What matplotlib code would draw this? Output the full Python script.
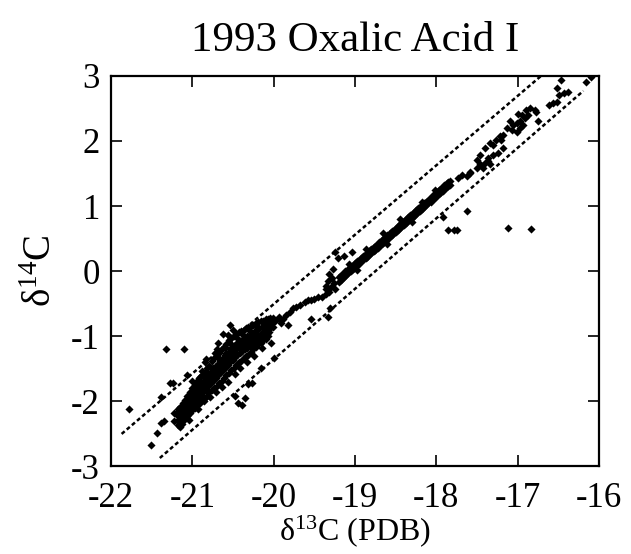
import matplotlib
matplotlib.use("Agg")
import matplotlib.pyplot as plt

plt.rcParams['font.family'] = ['Liberation Serif', 'DejaVu Serif']
plt.rcParams['mathtext.fontset'] = 'custom'
plt.rcParams['mathtext.rm'] = 'Liberation Serif'
plt.rcParams['mathtext.it'] = 'Liberation Serif:italic'

# ---------------- data ----------------
title = "1993 Oxalic Acid I"
xticks = [-22, -21, -20, -19, -18, -17, -16]
yticks = [-3, -2, -1, 0, 1, 2, 3]

# dotted envelope lines (end points)
upper_line_x = [-21.87, -16.71]
upper_line_y = [-2.50, 3.00]
lower_line_x = [-21.40, -16.19]
lower_line_y = [-2.87, 2.77]

left_outliers_x = [-21.78, -21.32, -21.10, -21.51, -21.43, -21.39, -21.35, -21.28, -21.24, -21.38]
left_outliers_y = [-2.12, -1.20, -1.20, -2.67, -2.49, -2.33, -2.30, -1.72, -1.72, -1.93]

dense_x = [-21.22, -21.22,
           -21.18, -21.18, -21.18, -21.15, -21.15, -21.15, -21.12, -21.12, -21.12,
           -21.09, -21.09, -21.09, -21.06, -21.06, -21.06, -21.03, -21.03, -21.03,
           -21.00, -21.00, -21.00, -20.97, -20.97, -20.97, -20.94, -20.94, -20.94,
           -20.91, -20.91, -20.91, -20.88, -20.88, -20.88, -20.85, -20.85, -20.85,
           -20.82, -20.82, -20.82, -20.79, -20.79, -20.79, -20.76, -20.76, -20.76,
           -20.73, -20.73, -20.73, -20.70, -20.70, -20.70, -20.67, -20.67, -20.67,
           -20.64, -20.64, -20.64, -20.61, -20.61, -20.61, -20.58, -20.58, -20.58,
           -20.55, -20.55, -20.55, -20.52, -20.52, -20.52, -20.49, -20.49, -20.49,
           -20.46, -20.46, -20.46, -20.43, -20.43, -20.43, -20.40, -20.40, -20.40,
           -20.37, -20.37, -20.37, -20.34, -20.34, -20.34, -20.31, -20.31, -20.31,
           -20.28, -20.28, -20.28, -20.25, -20.25, -20.25, -20.22, -20.22, -20.22,
           -20.19, -20.19, -20.19, -20.16, -20.16, -20.16, -20.13, -20.13, -20.13,
           -20.10, -20.10, -20.10, -20.07, -20.07, -20.07, -20.04, -20.04,
           -20.01, -20.01, -19.98]
dense_y = [-2.18, -2.30,
           -2.12, -2.28, -2.36, -2.08, -2.24, -2.40, -2.02, -2.18, -2.30,
           -1.98, -2.14, -2.26, -1.92, -2.10, -2.22, -1.85, -2.04, -2.18,
           -1.80, -1.98, -2.14, -1.75, -1.92, -2.10, -1.68, -1.90, -2.05,
           -1.62, -1.85, -2.02, -1.60, -1.78, -1.98, -1.55, -1.74, -1.95,
           -1.48, -1.70, -1.92, -1.45, -1.66, -1.86, -1.38, -1.60, -1.82,
           -1.34, -1.58, -1.80, -1.30, -1.52, -1.76, -1.25, -1.50, -1.72,
           -1.20, -1.44, -1.68, -1.16, -1.40, -1.64, -1.12, -1.36, -1.60,
           -1.06, -1.30, -1.56, -1.02, -1.28, -1.52, -1.00, -1.24, -1.48,
           -0.96, -1.20, -1.44, -0.94, -1.18, -1.40, -0.92, -1.15, -1.38,
           -0.90, -1.12, -1.34, -0.88, -1.10, -1.30, -0.86, -1.08, -1.28,
           -0.84, -1.04, -1.24, -0.82, -1.02, -1.20, -0.80, -1.00, -1.16,
           -0.78, -0.98, -1.12, -0.76, -0.96, -1.10, -0.76, -0.94, -1.06,
           -0.74, -0.92, -1.04, -0.74, -0.90, -1.00, -0.72, -0.88,
           -0.72, -0.86, -0.76]

dense_fill_x = [-21.20, -21.165, -21.165, -21.135, -21.135, -21.105, -21.105,
                -21.075, -21.075, -21.045, -21.045, -21.015, -21.015, -20.985, -20.985,
                -20.955, -20.955, -20.925, -20.925, -20.895, -20.895, -20.865, -20.865,
                -20.835, -20.835, -20.805, -20.805, -20.775, -20.775, -20.745, -20.745,
                -20.715, -20.715, -20.685, -20.685, -20.655, -20.655, -20.625, -20.625,
                -20.595, -20.595, -20.565, -20.565, -20.535, -20.535, -20.505, -20.505,
                -20.475, -20.475, -20.445, -20.445, -20.415, -20.415, -20.385, -20.385,
                -20.355, -20.355, -20.325, -20.325, -20.295, -20.295, -20.265, -20.265,
                -20.235, -20.235, -20.205, -20.205, -20.175, -20.175, -20.145, -20.145,
                -20.115, -20.115, -20.085, -20.085, -20.055, -20.055, -20.025]
dense_fill_y = [-2.20, -2.17, -2.31, -2.12, -2.27, -2.08, -2.22,
                -2.03, -2.17, -1.99, -2.12, -1.94, -2.08, -1.88, -2.04,
                -1.84, -2.00, -1.79, -1.95, -1.74, -1.90, -1.70, -1.86,
                -1.64, -1.82, -1.60, -1.76, -1.55, -1.72, -1.50, -1.68,
                -1.46, -1.64, -1.42, -1.60, -1.38, -1.56, -1.33, -1.52,
                -1.29, -1.48, -1.25, -1.44, -1.20, -1.40, -1.17, -1.36,
                -1.14, -1.32, -1.10, -1.28, -1.08, -1.26, -1.05, -1.22,
                -1.02, -1.20, -1.00, -1.18, -0.98, -1.14, -0.95, -1.12,
                -0.92, -1.10, -0.90, -1.06, -0.88, -1.04, -0.86, -1.02,
                -0.84, -0.98, -0.82, -0.96, -0.80, -0.94, -0.80]

dense_extra_x = [-21.13, -21.08, -21.04, -20.99, -20.96, -20.93, -20.89, -20.86, -20.81,
                 -20.78, -20.74, -20.71, -20.66, -20.63, -20.59, -20.56, -20.53, -20.48,
                 -20.45, -20.41, -20.38, -20.33, -20.29, -20.24, -20.20, -20.14, -20.09,
                 -20.03, -20.56, -20.70, -20.83, -21.00]
dense_extra_y = [-2.35, -2.02, -2.28, -2.05, -1.82, -2.12, -1.70, -2.00, -1.58,
                 -1.93, -1.48, -1.85, -1.36, -1.78, -1.26, -1.70, -1.12, -1.58,
                 -1.02, -1.48, -0.98, -1.40, -0.92, -1.30, -0.86, -1.18, -0.80,
                 -1.10, -0.98, -1.20, -1.35, -1.68]

cluster_edge_x = [-21.07, -20.92, -20.88, -20.80, -20.84, -20.68, -20.62, -20.54, -20.50,
                  -20.72, -20.60, -19.93, -20.48, -20.44, -20.39, -20.35, -20.31, -20.27,
                  -19.99, -20.15]
cluster_edge_y = [-1.59, -1.64, -1.54, -1.46, -1.39, -1.11, -0.96, -0.83, -0.90,
                  -1.26, -1.16, -0.70, -1.92, -2.02, -2.05, -1.95, -1.74, -1.72,
                  -1.34, -1.48]

transition_x = [-19.885, -19.845, -19.80, -19.76, -19.72, -19.68, -19.62, -19.58, -19.54,
                -19.50, -19.46, -19.40, -19.35, -19.32, -19.91, -19.93, -19.82,
                -19.54, -19.33, -19.31,
                -19.36, -19.33, -19.30, -19.28, -19.26, -19.32, -19.35, -19.24,
                -19.25, -19.21, -19.13, -19.03, -19.07, -19.27]
transition_y = [-0.73, -0.67, -0.62, -0.57, -0.55, -0.52, -0.47, -0.45, -0.45,
                -0.42, -0.40, -0.40, -0.35, -0.32, -0.80, -0.73, -0.83,
                -0.73, -0.70, -0.57,
                -0.22, -0.15, -0.25, -0.10, -0.18, -0.05, -0.28, -0.28,
                0.29, 0.21, 0.24, 0.29, 0.11, 0.04]

tight_x = [-19.20, -19.17, -19.15, -19.12, -19.10, -19.07, -19.05, -19.02, -19.00, -18.97,
           -18.95, -18.92, -18.90, -18.87, -18.85, -18.82, -18.80, -18.77, -18.75, -18.72,
           -18.70, -18.67, -18.65, -18.62, -18.60, -18.57, -18.55, -18.52, -18.50, -18.47,
           -18.45, -18.42, -18.40, -18.37, -18.35, -18.32, -18.30, -18.27, -18.25, -18.22,
           -18.20, -18.17, -18.15, -18.12, -18.10, -18.07, -18.05, -18.02, -18.00, -17.97,
           -17.95, -17.92, -17.90, -17.87, -17.85, -17.83]
tight_upper_y = [-0.09, -0.06, -0.04, 0.00, 0.01, 0.05, 0.06, 0.10, 0.12, 0.15,
                 0.17, 0.21, 0.23, 0.26, 0.28, 0.32, 0.34, 0.37, 0.39, 0.42,
                 0.45, 0.48, 0.50, 0.53, 0.55, 0.59, 0.61, 0.64, 0.66, 0.70,
                 0.72, 0.75, 0.77, 0.80, 0.83, 0.86, 0.88, 0.91, 0.94, 0.97,
                 0.99, 1.02, 1.04, 1.07, 1.10, 1.13, 1.15, 1.18, 1.21, 1.24,
                 1.26, 1.29, 1.32, 1.35, 1.37, 1.39]
tight_lower_y = [-0.17, -0.14, -0.11, -0.07, -0.05, -0.02, 0.00, 0.04, 0.06, 0.09,
                 0.11, 0.15, 0.17, 0.20, 0.22, 0.26, 0.28, 0.31, 0.33, 0.36,
                 0.39, 0.42, 0.44, 0.47, 0.49, 0.53, 0.55, 0.58, 0.60, 0.64,
                 0.66, 0.69, 0.71, 0.74, 0.77, 0.80, 0.82, 0.85, 0.88, 0.91,
                 0.93, 0.96, 0.98, 1.01, 1.04, 1.07, 1.09, 1.12, 1.15, 1.18,
                 1.20, 1.23, 1.26, 1.29, 1.31, 1.33]
tight_extra_x = [-18.66, -18.86, -18.45, -18.18, -18.02, -18.98, -18.60, -18.30]
tight_extra_y = [0.58, 0.34, 0.80, 1.06, 1.24, 0.02, 0.42, 0.76]

upper_scatter_x = [-17.73, -17.68, -17.62, -17.58, -17.50, -17.46, -17.40, -17.36, -17.30,
                   -17.24, -17.42, -17.34,
                   -16.46, -16.51, -16.49, -16.43, -16.38, -16.61, -16.56, -16.52,
                   -16.89, -16.85, -16.79, -16.77, -16.99, -16.95, -16.91, -16.87,
                   -17.09, -17.05, -17.01, -16.97, -16.93, -16.75, -17.13, -17.07,
                   -17.01, -16.97, -17.22, -17.18, -17.26, -17.20, -17.34, -17.30,
                   -17.40, -17.46, -17.50, -17.36, -17.18, -16.16, -16.10, -17.58]
upper_scatter_y = [1.43, 1.48, 1.46, 1.51, 1.59, 1.64, 1.66, 1.74, 1.79,
                   1.81, 1.59, 1.64,
                   2.93, 2.82, 2.71, 2.74, 2.75, 2.55, 2.58, 2.60,
                   2.47, 2.50, 2.47, 2.45, 2.42, 2.40, 2.35, 2.40,
                   2.30, 2.25, 2.27, 2.30, 2.25, 2.30, 2.20, 2.17,
                   2.14, 2.20, 2.07, 2.09, 2.02, 2.02, 1.97, 1.94,
                   1.89, 1.79, 1.71, 1.69, 1.89, 2.91, 2.99, 1.53]

right_outliers_x = [-17.85, -17.78, -17.75, -17.62, -17.12, -16.83, -17.92]
right_outliers_y = [0.63, 0.63, 0.63, 0.92, 0.67, 0.645, 0.83]

# ---------------- figure ----------------
fig = plt.figure(figsize=(6.31, 5.54), dpi=100)
ax = fig.add_axes([0.176, 0.158, 0.773, 0.705])

dash = (0, (1.6, 1.1))
ax.plot(upper_line_x, upper_line_y, color='black', lw=1.8, linestyle=dash)
ax.plot(lower_line_x, lower_line_y, color='black', lw=1.8, linestyle=dash)

mk = dict(marker='D', s=17, color='black', linewidths=0, clip_on=True)
series = [
    (left_outliers_x, left_outliers_y),
    (dense_x, dense_y),
    (dense_fill_x, dense_fill_y),
    (dense_extra_x, dense_extra_y),
    (cluster_edge_x, cluster_edge_y),
    (transition_x, transition_y),
    (tight_x, tight_upper_y),
    (tight_x, tight_lower_y),
    (tight_extra_x, tight_extra_y),
    (upper_scatter_x, upper_scatter_y),
    (right_outliers_x, right_outliers_y),
]
for xs, ys in series:
    ax.scatter(xs, ys, **mk)

ax.set_xlim(-22, -16)
ax.set_ylim(-3, 3)
ax.set_xticks(xticks)
ax.set_yticks(yticks)
ax.set_xticklabels([str(v) for v in xticks])
ax.set_yticklabels([str(v) for v in yticks])
ax.tick_params(direction='in', top=True, right=True, length=8, width=1.2,
               labelsize=25)
ax.tick_params(axis='x', pad=11)
ax.tick_params(axis='y', pad=8)
for sp in ax.spines.values():
    sp.set_linewidth(1.6)

ax.set_title(title, fontsize=31, pad=18)
ax.set_xlabel(r'δ$^{13}$C (PDB)', fontsize=23, labelpad=-1)
ax.set_ylabel(r'δ$^{14}$C', fontsize=28, labelpad=8)

fig.savefig('out.png', dpi=100)
